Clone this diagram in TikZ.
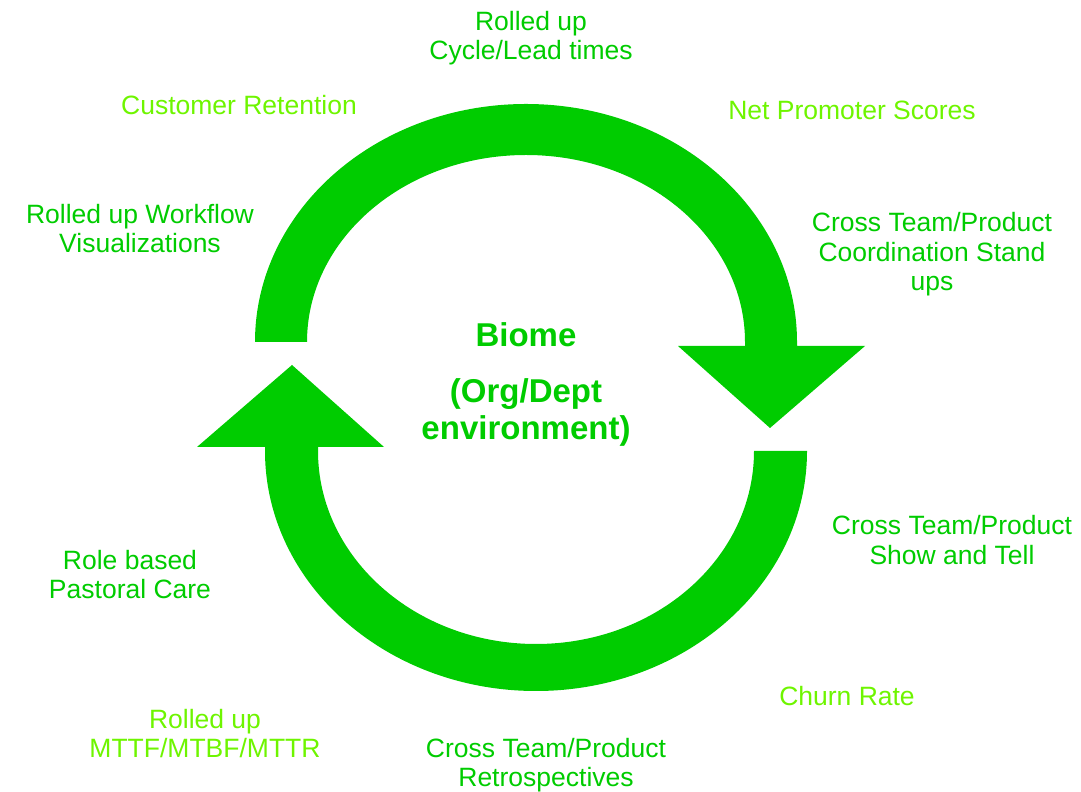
\documentclass[tikz,border=0pt]{standalone}
\usepackage{fontspec}
\setmainfont{Liberation Sans}
\definecolor{biomegreen}{RGB}{0,204,0}
\definecolor{limegreen}{RGB}{110,245,0}
\begin{document}
\begin{tikzpicture}[x=1pt, y=1pt, loop arrow/.style={fill=biomegreen, draw=none}, practice node/.style={align=center, inner sep=0pt, text=biomegreen, font=\fontsize{26.5}{29.5}\selectfont}, metric node/.style={practice node, text=limegreen}, centre node/.style={align=center, inner sep=0pt, text=biomegreen, font=\fontsize{33}{37}\selectfont\bfseries}]
	\useasboundingbox (0,0) rectangle (1081,792);
	% top arrow, pointing down on the right
	\fill[loop arrow] (255,450) arc[start angle=180, end angle=0, x radius=271, y radius=238]
		-- (797,446) -- (865,446) -- (770,364) -- (678,446) -- (745,446) -- (745,450)
		arc[start angle=0, end angle=180, x radius=219, y radius=187] -- cycle;
	% bottom arrow, pointing up on the left
	\fill[loop arrow] (807,341) arc[start angle=0, end angle=-180, x radius=271, y radius=240]
		-- (265,345) -- (197,345) -- (292,427) -- (384,345) -- (318,345) -- (318,341)
		arc[start angle=180, end angle=360, x radius=218, y radius=193] -- cycle;
	\node[centre node] (Biome) at (526,457) {Biome};
	\node[centre node] (Env) at (526,380) {(Org/Dept\\environment)};
	\node[practice node] (Cycle) at (531,754) {Rolled up\\Cycle/Lead times};
	\node[metric node] (Retention) at (239,687) {Customer Retention};
	\node[metric node] (NPS) at (852,682) {Net Promoter Scores};
	\node[practice node] (Workflow) at (140,563.5) {Rolled up Workflow\\Visualizations};
	\node[practice node] (Standup) at (932,537.5) {Cross Team/Product\\Coordination Stand\\ups};
	\node[practice node] (Show) at (952,252) {Cross Team/Product\\Show and Tell};
	\node[practice node] (Pastoral) at (130,217.5) {Role based\\Pastoral Care};
	\node[metric node] (Churn) at (847,96) {Churn Rate};
	\node[metric node] (MTTR) at (205,58.5) {Rolled up\\MTTF/MTBF/MTTR};
	\node[practice node] (Retro) at (546,27) {Cross Team/Product\\Retrospectives};
\end{tikzpicture}
\end{document}
